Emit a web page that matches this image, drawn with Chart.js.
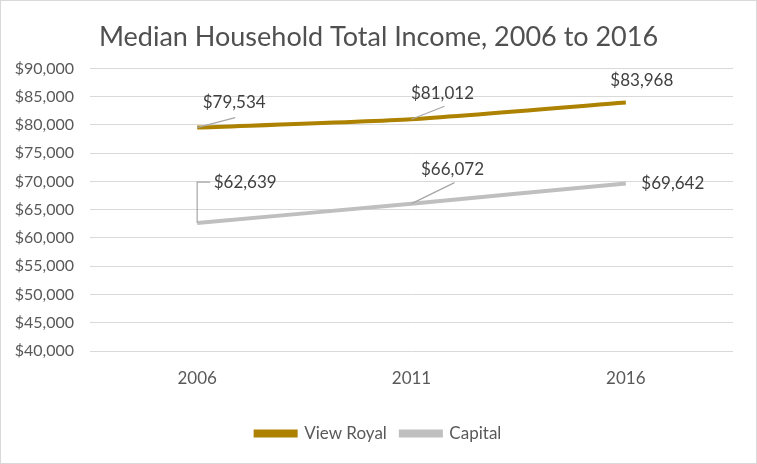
<!DOCTYPE html>
<html>
<head>
<meta charset="utf-8">
<script src="https://cdn.jsdelivr.net/npm/chart.js@4.4.1/dist/chart.umd.min.js"></script>
<style>
  body { margin: 0; background: #fff; }
  #wrap { width: 757px; height: 464px; box-sizing: border-box; border: 1px solid #d9d9d9; }
</style>
</head>
<body>
<div id="wrap"><canvas id="incomeChart" width="755" height="462"></canvas></div>
<script>
// data
var years = ['2006', '2011', '2016'];
var viewRoyal = [79534, 81012, 83968];
var capital = [62639, 66072, 69642];
var seriesNames = ['View Royal', 'Capital'];

var textFont = 'Lato, sans-serif';

function money(v) {
    return '$' + v.toLocaleString('en-US');
}

// where each data label sits relative to its point, and how its leader line goes
var labelPlacement = [
    [{ dx: 37, dy: -25, leader: [38, -10] }, { dx: 31, dy: -26, leader: [33, -13] }, { dx: 16, dy: -22 }],
    [{ dx: 48, dy: -41, elbow: [13, -41] }, { dx: 41, dy: -34, leader: [43, -21] }, { dx: 47, dy: 0 }]
];

var dataLabels = {
    id: 'dataLabels',
    afterDatasetsDraw: function(chart) {
        var c = chart.ctx;
        c.save();
        chart.data.datasets.forEach(function(ds, i) {
            var meta = chart.getDatasetMeta(i);
            meta.data.forEach(function(pt, j) {
                var p = labelPlacement[i][j];
                c.strokeStyle = '#a6a6a6';
                c.lineWidth = 1.2;
                if (p.leader) {
                    c.beginPath();
                    c.moveTo(pt.x, pt.y);
                    c.lineTo(pt.x + p.leader[0], pt.y + p.leader[1]);
                    c.stroke();
                }
                if (p.elbow) {
                    c.beginPath();
                    c.moveTo(pt.x, pt.y);
                    c.lineTo(pt.x, pt.y + p.elbow[1]);
                    c.lineTo(pt.x + p.elbow[0], pt.y + p.elbow[1]);
                    c.stroke();
                }
                c.fillStyle = '#404040';
                c.font = '17px ' + textFont;
                c.textAlign = 'center';
                c.textBaseline = 'middle';
                c.fillText(money(ds.data[j]), pt.x + p.dx, pt.y + p.dy);
            });
        });
        c.restore();
    }
};

var ctx = document.getElementById('incomeChart').getContext('2d');
var incomeChart = new Chart(ctx, {
    type: 'line',
    data: {
        labels: years,
        datasets: [{
            label: seriesNames[0],
            data: viewRoyal,
            borderColor: '#ad8200',
            backgroundColor: '#ad8200',
            borderWidth: 4,
            pointRadius: 0,
            tension: 0.2,
            fill: false
        }, {
            label: seriesNames[1],
            data: capital,
            borderColor: '#bfbfbf',
            backgroundColor: '#bfbfbf',
            borderWidth: 4,
            pointRadius: 0,
            tension: 0.2,
            fill: false
        }]
    },
    options: {
        responsive: false,
        animation: false,
        layout: { padding: { top: 0, left: 0, right: 0, bottom: 11 } },
        scales: {
            x: {
                offset: true,
                grid: { display: false },
                border: { display: false },
                ticks: { color: '#595959', font: { family: textFont, size: 17 }, padding: 9 },
                afterFit: function(scale) { scale.height = 60; }
            },
            y: {
                min: 40000,
                max: 90000,
                grid: { color: '#d9d9d9', drawTicks: false },
                border: { display: false },
                ticks: {
                    stepSize: 5000,
                    color: '#595959',
                    padding: 16,
                    font: { family: textFont, size: 16 },
                    callback: function(v) { return money(v); }
                },
                afterFit: function(scale) { scale.width = 89; }
            },
            // empty right-hand strip so the plot ends where the reference does
            yRight: {
                position: 'right',
                grid: { display: false },
                border: { display: false },
                ticks: { display: false },
                afterFit: function(scale) { scale.width = 23; }
            }
        },
        plugins: {
            title: {
                display: true,
                text: 'Median Household Total Income, 2006 to 2016',
                color: '#505050',
                font: { family: 'Lato, sans-serif', size: 27, weight: 'normal' },
                padding: { top: 20, bottom: 15 }
            },
            legend: {
                position: 'bottom',
                labels: {
                    color: '#595959',
                    boxWidth: 40,
                    boxHeight: 4,
                    padding: 14,
                    font: { family: textFont, size: 17 }
                }
            },
            tooltip: { enabled: false }
        }
    },
    plugins: [dataLabels]
});
</script>
</body>
</html>
